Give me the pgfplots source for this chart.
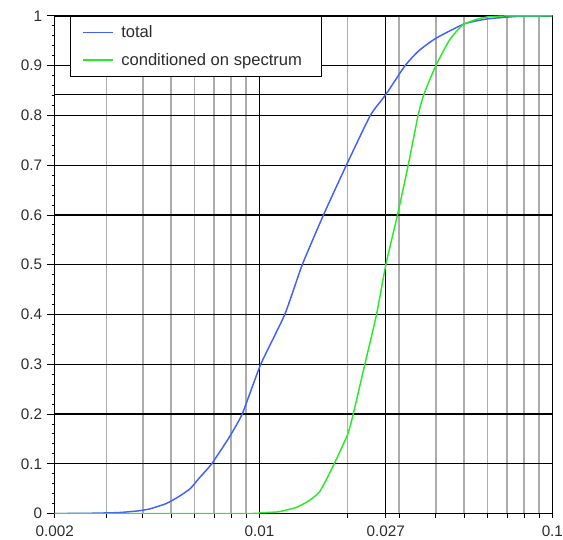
\documentclass[border=0pt]{standalone}
\usepackage{pgfplots}
\pgfplotsset{compat=1.18}
\usepackage{fontspec}
\setmainfont{Liberation Sans}

\definecolor{totalblue}{RGB}{64,96,255}
\definecolor{condgreen}{RGB}{40,235,40}
\definecolor{gridgray}{RGB}{172,172,172}
\definecolor{labelgray}{RGB}{45,45,45}

\begin{document}
\begin{tikzpicture}
\useasboundingbox (-41.25pt,-19.5pt) rectangle (383pt,387pt);
\begin{axis}[
    scale only axis,
    width=375pt, height=375pt,
    xmode=log,
    xmin=0.002, xmax=0.1,
    ymin=0, ymax=1,
    xtick={0.002,0.01,0.027,0.1},
    xticklabels={0.002,0.01,0.027,0.1},
    minor xtick={0.003,0.004,0.005,0.006,0.007,0.008,0.009,0.02,0.03,0.04,0.05,0.06,0.07,0.08,0.09},
    ytick={0,0.1,0.2,0.3,0.4,0.5,0.6,0.7,0.8,0.9,1},
    yticklabels={0,0.1,0.2,0.3,0.4,0.5,0.6,0.7,0.8,0.9,1},
    minor y tick num=4,
    xmajorgrids, xminorgrids, ymajorgrids,
    major grid style={black, line width=1pt},
    minor grid style={draw=gridgray, line width=1.2pt},
    tick pos=left,
    tick align=outside,
    major tick length=6pt, minor tick length=2.3pt,
    xtick style={/pgfplots/major tick length=3pt, /pgfplots/minor tick length=3pt},
    tick style={black, line width=0.7pt},
    axis line style={line width=0.8pt},
    tick label style={font=\fontsize{11.5}{13}\selectfont, text=labelgray},
    legend style={at={(rel axis cs:0.03,1)}, anchor=north west,
        draw=black, line width=0.8pt, fill=white,
        font=\fontsize{12.5}{15}\selectfont, text=labelgray,
        inner xsep=9pt, inner ysep=5pt, row sep=6pt,
        nodes={inner xsep=6pt}},
    legend cell align=left,
    legend image code/.code={\draw[#1, line width=1pt] (0pt,0pt) -- (22.5pt,0pt);},
]
\draw[black, line width=1pt] (axis cs:0.002,0.842) -- (axis cs:0.1,0.842);
\draw[black, line width=1pt] (axis cs:0.027,0) -- (axis cs:0.027,1);

\addplot[totalblue, line width=1.1pt, smooth, tension=0.3] coordinates {
(0.002,0) (0.0026,0.0005) (0.0033,0.002) (0.0038,0.005) (0.0042,0.009)
(0.0048,0.02) (0.0053,0.034) (0.0058,0.05) (0.0062,0.07) (0.00687,0.1)
(0.00786,0.152) (0.00873,0.2) (0.0101,0.3) (0.0122,0.4) (0.0140,0.5)
(0.01654,0.6) (0.0198,0.7) (0.0239,0.8) (0.027,0.842) (0.0314,0.9)
(0.0350,0.93) (0.040,0.955) (0.050,0.984) (0.060,0.994) (0.076,0.999)
(0.1,1)
};
\addlegendentry{total}

\addplot[condgreen, line width=1.1pt, smooth, tension=0.3] coordinates {
(0.002,0) (0.009,0) (0.0100,0.0015) (0.0116,0.0035) (0.0133,0.012)
(0.0147,0.025) (0.0161,0.045) (0.0180,0.1) (0.0200,0.159) (0.0209,0.2)
(0.0229,0.3) (0.0251,0.4) (0.027,0.5) (0.0296,0.6) (0.0322,0.7)
(0.0348,0.8) (0.0364,0.842) (0.040,0.9) (0.0446,0.952) (0.0494,0.982)
(0.055,0.993) (0.0601,0.998) (0.070,1) (0.1,1)
};
\addlegendentry{conditioned on spectrum}
\end{axis}
\end{tikzpicture}
\end{document}
